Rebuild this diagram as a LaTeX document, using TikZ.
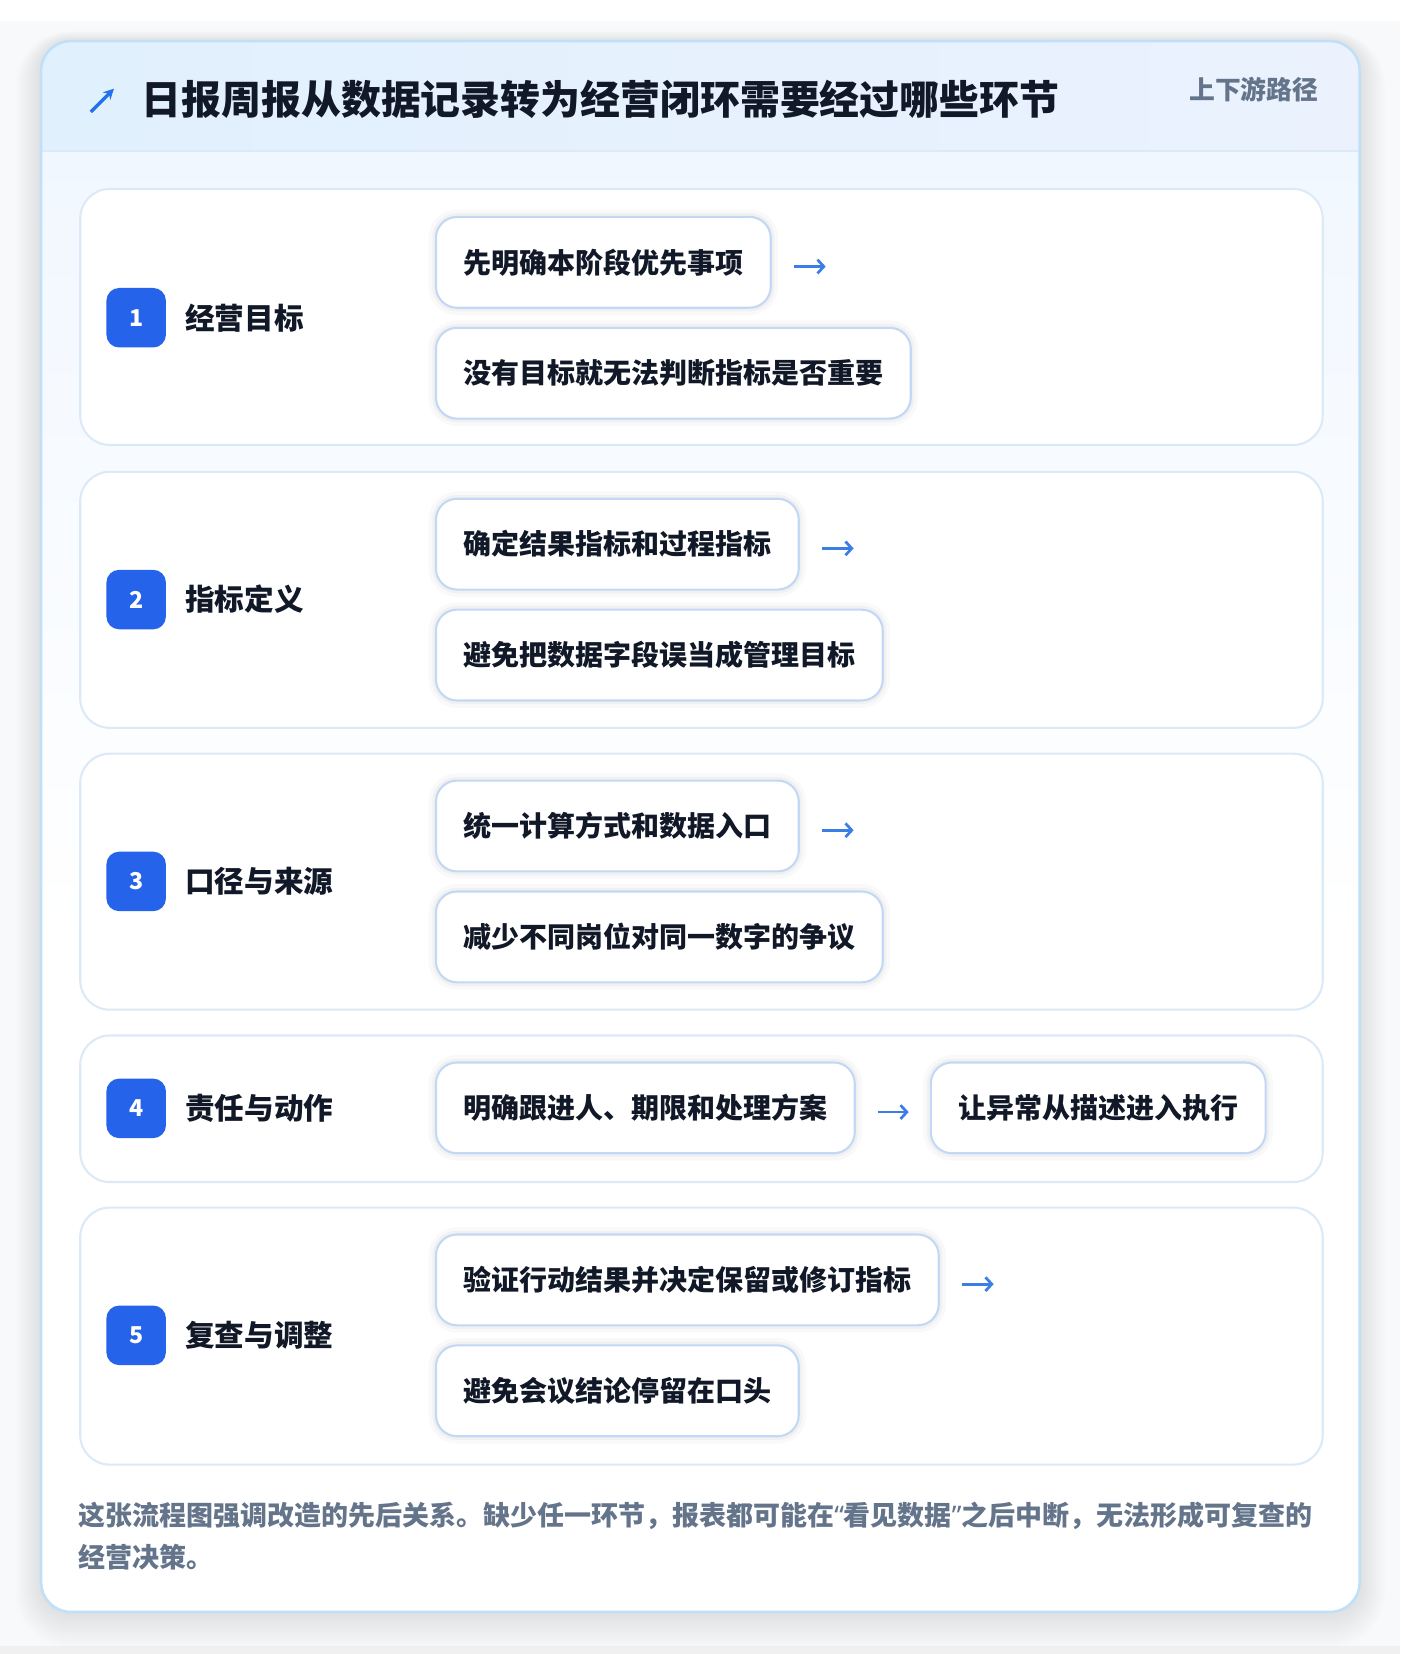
\documentclass[tikz,border=0pt]{standalone}
\usepackage{fontspec}
\setmainfont{Noto Sans CJK SC}
\newfontfamily\quotefont{Noto Sans}
\usetikzlibrary{positioning,arrows.meta}

\definecolor{ink}{HTML}{111827}
\definecolor{mutedgrey}{HTML}{64748B}
\definecolor{badgeblue}{HTML}{2563EB}
\definecolor{arrowblue}{HTML}{3B7FE6}
\definecolor{frameline}{HTML}{BFE0F8}
\definecolor{stageline}{HTML}{DCEAF8}
\definecolor{boxline}{HTML}{C2D8F4}
\definecolor{hdrleft}{HTML}{E1F0FD}
\definecolor{hdrright}{HTML}{EBF2FE}
\definecolor{bodytop}{HTML}{F1F7FF}
\definecolor{pagebg}{HTML}{F8F9FB}

\begin{document}
\begin{tikzpicture}[
  x=1.0556pt, y=-1.0556pt,
  node distance=18pt and 19pt,
  stage/.style={draw=stageline,line width=2.1pt,fill=white,rounded corners=29.5pt,
    minimum width=1242.5pt,anchor=north west,inner sep=0pt},
  badge/.style={fill=badgeblue,rounded corners=12.7pt,minimum size=59.5pt,inner sep=0pt,
    text=white,font=\fontsize{23.2}{23.2}\selectfont\bfseries},
  stagename/.style={anchor=west,inner sep=0pt,text=ink,
    font=\fontsize{29.6}{29.6}\selectfont\bfseries},
  notebox/.style={draw=boxline,line width=2.1pt,fill=white,rounded corners=21pt,
    minimum height=90.8pt,inner xsep=27.4pt,inner ysep=0pt,text=ink,
    font=\fontsize{28}{28}\selectfont\bfseries,
    preaction={draw=black,opacity=0.025,line width=14.8pt},
    preaction={draw=black,opacity=0.03,line width=7.4pt}},
  flow/.style={-{Straight Barb[length=6.3pt,width=13.7pt]},draw=arrowblue,line width=2.75pt}
]
\useasboundingbox (0,0) rectangle (1326.3,1566.9);
\fill[pagebg] (0,0) rectangle (1326.3,1566.9);
\fill[white] (0,0) rectangle (1326.3,20);
\fill[black!6] (0,1559) rectangle (1326.3,1566.9);

% outer card with soft shadow
\foreach \g in {2,4,...,24}{
  \fill[black,opacity=0.006,rounded corners=29.5pt+\g*1.0556pt]
    (39-\g,39-\g*0.4) rectangle (1288+\g,1527+\g*1.4);
}
\fill[white,rounded corners=29.5pt] (39,39) rectangle (1288,1527);
\begin{scope}
\clip[rounded corners=29.5pt] (39,39) rectangle (1288,1527);
\foreach \i in {0,...,24}{
  \pgfmathsetmacro\p{\i*4}
  \fill[hdrright!\p!hdrleft] (39+\i*50,39) rectangle (39+\i*50+51,143);
  \fill[bodytop!\p!white] (39,900-\i*30.3) rectangle (1288,900-\i*30.3-31);
}
\end{scope}
\draw[stageline,line width=2.1pt] (39,143) -- (1288,143);
\draw[frameline,line width=2.5pt,rounded corners=29.5pt] (39,39) rectangle (1288,1527);

% header
\draw[badgeblue!90!cyan,line width=3.4pt,-{Stealth[length=10.5pt,width=10.5pt]}] (86,106) -- (108,84);
\node[anchor=west,inner sep=0pt,text=ink,font=\fontsize{39.9}{39.9}\selectfont\bfseries]
  (title) at (134,94) {日报周报从数据记录转为经营闭环需要经过哪些环节};
\node[anchor=east,inner sep=0pt,text=mutedgrey,font=\fontsize{25.8}{25.8}\selectfont\bfseries]
  (tag) at (1249,85) {上下游路径};

% stage cards
\node[stage,minimum height=256pt] (s1) at (75,178) {};
\node[stage,minimum height=256pt] (s2) at (75,446) {};
\node[stage,minimum height=256pt] (s3) at (75,713) {};
\node[stage,minimum height=146.5pt] (s4) at (75,980) {};
\node[stage,minimum height=257pt] (s5) at (75,1143) {};

% badges and names
\node[badge] (n1) at (129,301) {1};
\node[stagename,right=of n1] (l1) {经营目标};
\node[badge] (n2) at (129,568) {2};
\node[stagename,right=of n2] (l2) {指标定义};
\node[badge] (n3) at (129,835) {3};
\node[stagename,right=of n3] (l3) {口径与来源};
\node[badge] (n4) at (129,1050) {4};
\node[stagename,right=of n4] (l4) {责任与动作};
\node[badge] (n5) at (129,1265) {5};
\node[stagename,right=of n5] (l5) {复查与调整};

% notes
\node[notebox,anchor=west] (a1) at (412,248.5) {先明确本阶段优先事项};
\node[notebox,below=of a1.south west,anchor=north west] (b1) {没有目标就无法判断指标是否重要};
\node[notebox,anchor=west] (a2) at (412,515.5) {确定结果指标和过程指标};
\node[notebox,below=of a2.south west,anchor=north west] (b2) {避免把数据字段误当成管理目标};
\node[notebox,anchor=west] (a3) at (412,782.5) {统一计算方式和数据入口};
\node[notebox,below=of a3.south west,anchor=north west] (b3) {减少不同岗位对同一数字的争议};
\node[notebox,anchor=west] (a4) at (412,1049.5) {明确跟进人、期限和处理方案};
\node[notebox,right=74pt of a4] (b4) {让异常从描述进入执行};
\node[notebox,anchor=west] (a5) at (412,1212.5) {验证行动结果并决定保留或修订指标};
\node[notebox,below=of a5.south west,anchor=north west] (b5) {避免会议结论停留在口头};

% arrows
\foreach \k in {1,2,3,5}{
  \path (a\k.east) ++(21,4) coordinate (t\k) ++(30,0) coordinate (h\k);
  \draw[flow] (t\k) -- (h\k);
}
\draw[flow,shorten <=22pt,shorten >=21.1pt] ([yshift=-4.2pt]a4.east) -- ([yshift=-4.2pt]b4.west);

% footnote
\node[anchor=north west,inner sep=0pt,align=left,text=mutedgrey,
  font=\fontsize{27}{41.2}\selectfont\bfseries] (note) at (74,1423)
  {这张流程图强调改造的先后关系。缺少任一环节，报表都可能在{\quotefont“}看见数据{\quotefont”}之后中断，无法形成可复查的\\经营决策。};
\end{tikzpicture}
\end{document}
